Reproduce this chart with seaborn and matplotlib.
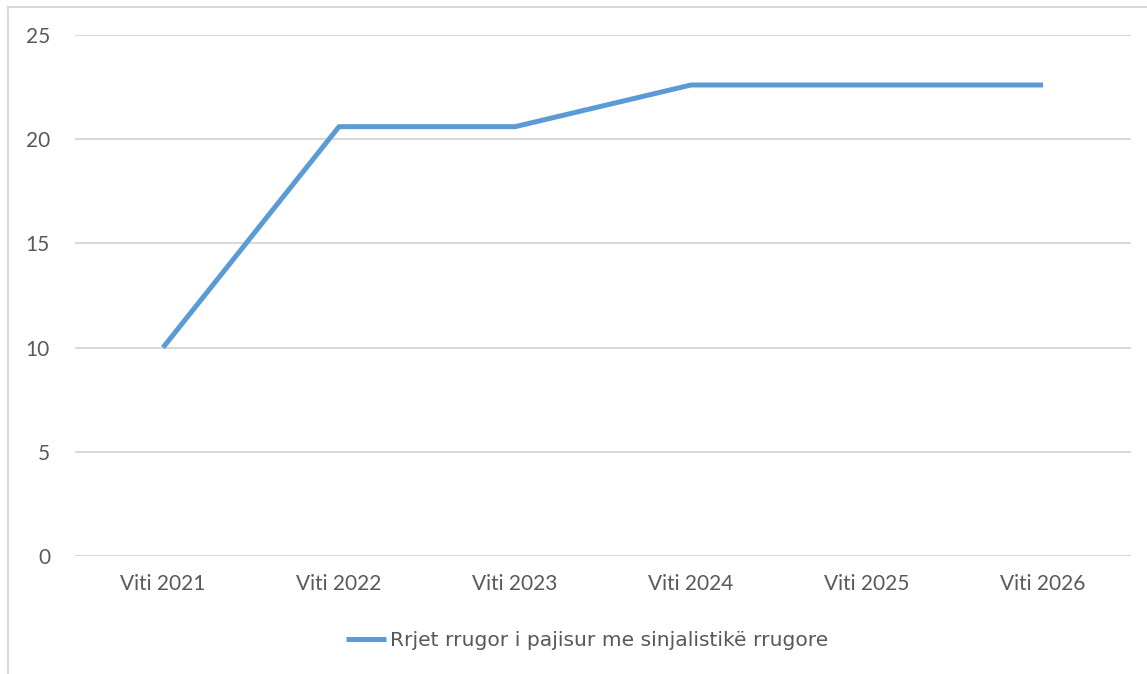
import matplotlib.pyplot as plt
import matplotlib.patches as mpatches
import seaborn as sns
import pandas as pd

# Data
years = ["Viti 2021", "Viti 2022", "Viti 2023", "Viti 2024", "Viti 2025", "Viti 2026"]
values = [10.0, 20.6, 20.6, 22.6, 22.6, 22.6]
series_name = "Rrjet rrugor i pajisur me sinjalistikë rrugore"
y_ticks = [0, 5, 10, 15, 20, 25]

df = pd.DataFrame({"year": years, "value": values, "series": series_name})

sns.set_theme(style="white")
plt.rcParams["font.family"] = ["Lato", "DejaVu Sans"]

text_color = "#595959"
grid_color = "#D9D9D9"
line_color = "#5B9BD5"

fig = plt.figure(figsize=(11.47, 6.74), dpi=100)
ax = fig.add_axes([0.0654, 0.1751, 0.9207, 0.7730])

sns.lineplot(data=df, x="year", y="value", hue="series", palette=[line_color],
             linewidth=3.6, sort=False, ax=ax, solid_capstyle="butt")

ax.set_xlim(-0.5, len(years) - 0.5)
ax.set_ylim(0, 25)
ax.set_yticks(y_ticks)
for y in y_ticks:
    ax.axhline(y, color=grid_color, linewidth=1.5, zorder=0)

for s in ax.spines.values():
    s.set_visible(False)
ax.tick_params(axis="both", length=0, labelsize=15, colors=text_color)
ax.tick_params(axis="y", pad=18)
ax.tick_params(axis="x", pad=13)
ax.set_xlabel("")
ax.set_ylabel("")

leg = ax.legend(loc="center", bbox_to_anchor=(0.485, -0.163), frameon=False,
                prop={"family": ["DejaVu Sans"], "size": 14.6},
                handlelength=2.0, handletextpad=0.2)
for t in leg.get_texts():
    t.set_color(text_color)
for h in leg.get_lines():
    h.set_linewidth(3.6)

# outer chart frame (partly cut off at right and bottom)
fig.patches.append(mpatches.Rectangle((8 / 1147, -0.05), 1.2, 1 - 7 / 674 + 0.05,
                                      transform=fig.transFigure, fill=False,
                                      edgecolor=grid_color, linewidth=1.5))

fig.savefig("out.png", dpi=100)
